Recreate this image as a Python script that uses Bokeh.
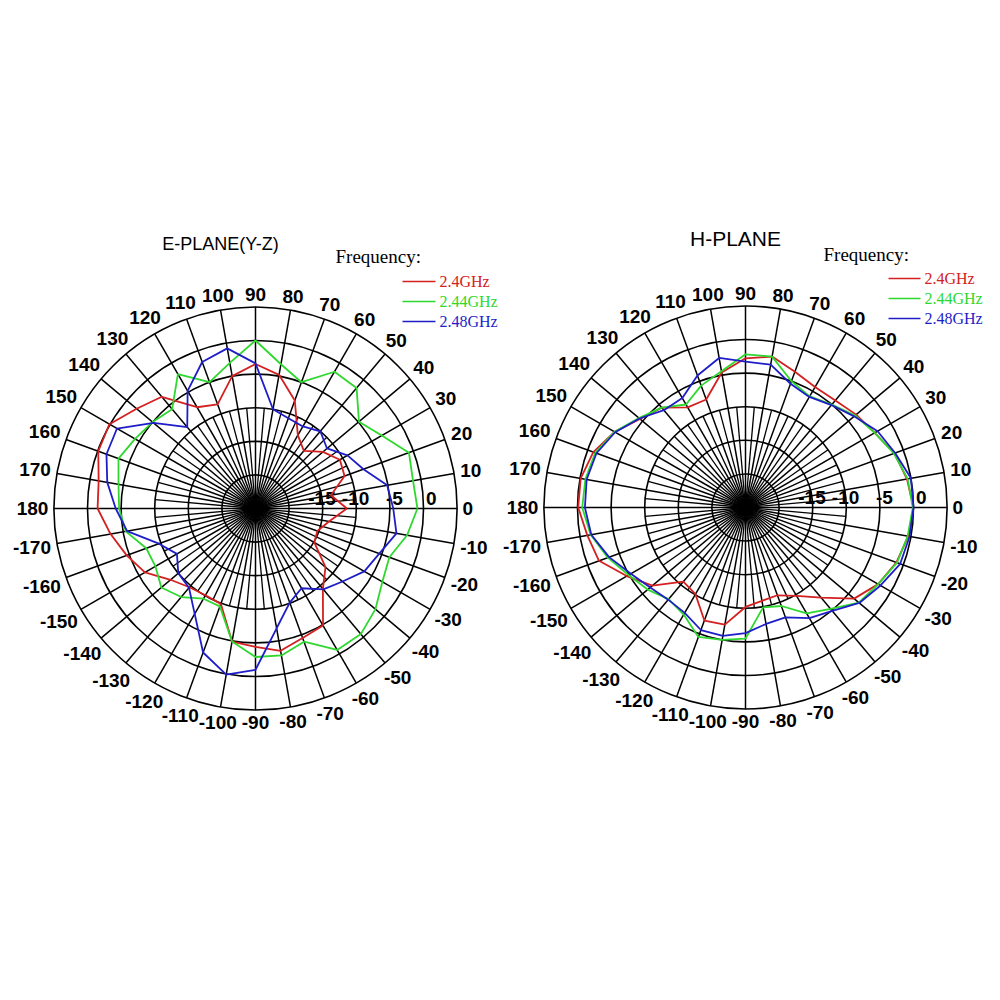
import numpy as np
from bokeh.plotting import figure
from bokeh.models import Range1d
from bokeh.core.properties import value
from bokeh.embed import file_html
from bokeh.resources import INLINE

# ---------------- data ----------------
ANGLES = [0, 10, 20, 30, 40, 50, 60, 70, 80, 90, 100, 110, 120, 130, 140, 150, 160, 170,
          180, 190, 200, 210, 220, 230, 240, 250, 260, 270, 280, 290, 300, 310, 320, 330, 340, 350]

E_TITLE = "E-PLANE(Y-Z)"
H_TITLE = "H-PLANE"
LEGEND_TITLE = "Frequency:"
FREQ_LABELS = ["2.4GHz", "2.44GHz", "2.48GHz"]

# E-plane gain (dB)
E_2_4 = [-11.4, -13.6, -10.9, -10.5, -11.9, -13.8, -12.4, -7.9, -4.8, -3.5,
         -5.0, -8.5, -7.6, -3.3, -1.9, 0.1, -0.1, -1.3, -1.5,
         -3.1, -4.6, -6.0, -8.5, -9.7, -10.1, -9.9, -4.9, -4.4,
         -3.5, -4.5, -4.9, -9.4, -11.4, -14.9, -15.2, -13.9]
E_2_44 = [-0.9, -1.2, -0.7, -3.3, -4.9, -1.6, -1.5, -5.0, -3.2, 0.0,
          -3.0, -5.0, -1.9, -5.7, -5.0, -4.3, -3.3, -4.3, -4.7,
          -5.4, -7.7, -7.8, -6.7, -7.8, -9.5, -9.5, -4.9, -2.9,
          -2.8, -3.9, -0.7, -0.6, -1.7, -3.2, -3.8, -2.1]
E_2_48 = [-4.5, -5.1, -7.9, -9.2, -11.1, -10.0, -10.9, -10.7, -10.0, -3.4,
          -0.8, -1.8, -4.8, -9.2, -5.2, -1.2, -1.4, -2.6, -4.2,
          -5.6, -9.7, -11.5, -10.0, -9.6, -6.9, -2.2, 0.1, -1.0,
          -6.9, -10.1, -11.3, -9.3, -8.1, -6.3, -5.4, -3.7]

# H-plane gain (dB)
H_2_4 = [0.0, -0.6, -1.4, -2.8, -3.5, -4.2, -4.3, -3.5, -2.2, -2.8,
         -4.6, -7.9, -7.8, -5.6, -4.5, -2.5, -0.9, -0.1, -0.1,
         -1.1, -1.8, -4.6, -6.9, -10.6, -10.1, -7.1, -7.3, -10.2,
         -10.9, -11.1, -9.8, -7.5, -3.9, -2.2, -1.1, -0.4]
H_2_44 = [-0.1, -0.5, -1.5, -2.8, -3.7, -5.0, -5.9, -5.0, -2.2, -2.2,
          -4.4, -5.7, -7.3, -5.6, -4.3, -2.5, -1.2, -0.8, -0.7,
          -1.6, -3.2, -4.9, -6.0, -7.2, -6.6, -4.5, -5.0, -5.5,
          -9.9, -9.4, -6.8, -5.3, -3.0, -2.2, -1.0, -0.5]
H_2_48 = [0.0, 0.0, -1.3, -2.3, -3.9, -5.1, -6.0, -5.4, -3.4, -3.3,
          -2.4, -4.1, -6.2, -6.1, -4.4, -2.6, -1.4, -1.0, -1.1,
          -1.7, -3.4, -5.3, -6.5, -7.1, -6.9, -5.6, -5.6, -6.3,
          -7.4, -7.6, -6.0, -4.9, -2.9, -1.8, -0.5, -0.2]

ANGLE_TICKS = [0, 10, 20, 30, 40, 50, 60, 70, 80, 90, 100, 110, 120, 130, 140, 150, 160, 170, 180,
               -170, -160, -150, -140, -130, -120, -110, -100, -90, -80, -70, -60, -50, -40, -30, -20, -10]
DB_TICKS = [-15, -10, -5, 0]
RING_DB = [-20, -15, -10, -5, 0, 5]

COLORS = ["#d42020", "#2ed82e", "#1e1ec8"]

# ---------------- geometry ----------------
DB_MIN = -25.0
PX_PER_DB = 6.72
R_OUT = (5 - DB_MIN) * PX_PER_DB
CENTERS = [(255.0, 508.0), (745.0, 507.0)]
FS_LBL = 19


def rad(db):
    return (np.asarray(db, dtype=float) - DB_MIN) * PX_PER_DB


p = figure(width=984, height=900, x_range=Range1d(0, 984), y_range=Range1d(900, 0),
           output_backend="svg", toolbar_location=None, min_border=0,
           x_axis_type=None, y_axis_type=None)
p.grid.visible = False
p.outline_line_color = None
p.background_fill_color = "white"
p.border_fill_color = "white"

lbl_font = value("Liberation Sans")

for (cx, cy) in CENTERS:
    # rings
    p.circle(x=[cx] * len(RING_DB), y=[cy] * len(RING_DB), radius=list(rad(RING_DB)),
             fill_color=None, line_color="black", line_width=1.6)
    # 10 degree spokes
    a10 = np.radians(np.arange(0, 360, 10))
    p.segment(x0=[cx] * len(a10), y0=[cy] * len(a10),
              x1=list(cx + R_OUT * np.cos(a10)), y1=list(cy - R_OUT * np.sin(a10)),
              line_color="black", line_width=1.5)
    # 5 degree spokes (inner)
    a5 = np.radians(np.arange(5, 360, 10))
    r3 = float(rad(-10))
    p.segment(x0=[cx] * len(a5), y0=[cy] * len(a5),
              x1=list(cx + r3 * np.cos(a5)), y1=list(cy - r3 * np.sin(a5)),
              line_color="black", line_width=1.3)
    # angle labels
    xs, ys, ts = [], [], []
    for a in ANGLE_TICKS:
        t = str(a)
        w = sum(0.333 * FS_LBL if ch == "-" else 0.556 * FS_LBL for ch in t)
        h = 0.72 * FS_LBL
        th = np.radians(a)
        ext = abs(np.cos(th)) * w / 2 + abs(np.sin(th)) * h / 2
        rr = R_OUT + 5.5 + ext
        xs.append(cx + rr * np.cos(th))
        ys.append(cy - rr * np.sin(th))
        ts.append(t)
    p.text(x=xs, y=ys, text=ts, text_font=lbl_font, text_font_size="%dpx" % FS_LBL,
           text_font_style="bold", text_align="center", text_baseline="middle", text_color="black")
    # dB labels
    p.text(x=[cx + float(rad(d)) + 13 for d in DB_TICKS], y=[cy - 10] * len(DB_TICKS),
           text=[str(d) for d in DB_TICKS], text_font=lbl_font, text_font_size="%dpx" % FS_LBL,
           text_font_style="bold", text_align="right", text_baseline="middle", text_color="black")


def draw_curve(cx, cy, vals, color):
    th = np.radians(np.array(ANGLES + [ANGLES[0]], dtype=float))
    r = rad(list(vals) + [vals[0]])
    p.line(x=list(cx + r * np.cos(th)), y=list(cy - r * np.sin(th)),
           line_color=color, line_width=1.8)


for vals, col in zip([E_2_4, E_2_44, E_2_48], COLORS):
    draw_curve(CENTERS[0][0], CENTERS[0][1], vals, col)
for vals, col in zip([H_2_4, H_2_44, H_2_48], COLORS):
    draw_curve(CENTERS[1][0], CENTERS[1][1], vals, col)

# titles
p.text(x=[220], y=[243], text=[E_TITLE], text_font=value("Liberation Sans"), text_font_size="18px",
       text_align="center", text_baseline="middle", text_color="black")
p.text(x=[735], y=[238], text=[H_TITLE], text_font=value("Liberation Sans"), text_font_size="21px",
       text_align="center", text_baseline="middle", text_color="black")

# legends
serif = value("Liberation Serif")
for (fx, fy, lx0, lx1, ly0) in [(335, 256, 402, 435, 281), (823, 254, 888, 920, 278)]:
    p.text(x=[fx], y=[fy], text=[LEGEND_TITLE], text_font=serif, text_font_size="19px",
           text_align="left", text_baseline="middle", text_color="black")
    for i, (lab, col) in enumerate(zip(FREQ_LABELS, COLORS)):
        yy = ly0 + 20 * i
        p.line(x=[lx0, lx1], y=[yy, yy], line_color=col, line_width=1.6)
        p.text(x=[lx1 + 4], y=[yy], text=[lab], text_font=serif, text_font_size="16px",
               text_align="left", text_baseline="middle", text_color=col)

open("out.html", "w").write(file_html(p, INLINE))
